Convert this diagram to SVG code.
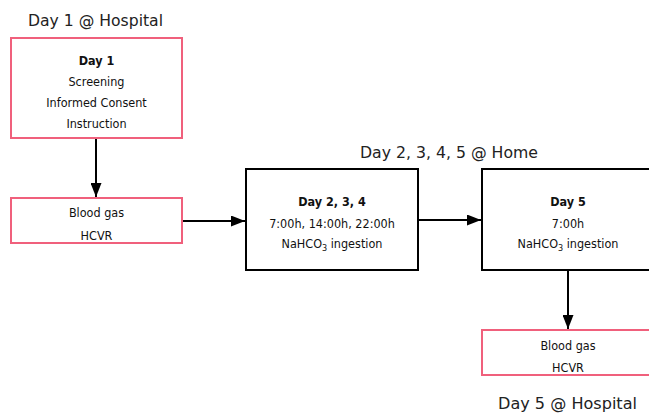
<svg xmlns="http://www.w3.org/2000/svg" width="649" height="413" viewBox="0 0 649 413">
<style>
.title{font-family:"DejaVu Sans","Liberation Sans",sans-serif;font-size:15px;fill:#222;}
.t{font-family:"DejaVu Sans","Liberation Sans",sans-serif;font-stretch:condensed;font-size:12.5px;fill:#111;text-anchor:middle;}
.b{font-weight:bold;}
.pink{fill:#fff;stroke:#f0607c;stroke-width:2;}
.blk{fill:#fff;stroke:#000;stroke-width:2;}
.conn line{stroke:#000;stroke-width:2;}
</style>
<defs>
<marker id="ah" viewBox="0 0 14 11" refX="14" refY="5.5" markerWidth="14" markerHeight="11" markerUnits="userSpaceOnUse" orient="auto">
<path d="M0,0 L14,5.5 L0,11 Z" fill="#000"/>
</marker>
</defs>
<rect width="649" height="413" fill="#fff"/>
<text class="title" x="28" y="26" textLength="135" lengthAdjust="spacingAndGlyphs">Day 1 @ Hospital</text>
<text class="title" x="360" y="158" textLength="178" lengthAdjust="spacingAndGlyphs">Day 2, 3, 4, 5 @ Home</text>
<text class="title" x="498" y="409" textLength="139" lengthAdjust="spacingAndGlyphs">Day 5 @ Hospital</text>
<g class="conn">
<line x1="96" y1="139" x2="96" y2="197" marker-end="url(#ah)"/>
<line x1="183" y1="221" x2="245" y2="221" marker-end="url(#ah)"/>
<line x1="419" y1="220" x2="481" y2="220" marker-end="url(#ah)"/>
<line x1="568" y1="271" x2="568" y2="329" marker-end="url(#ah)"/>
</g>
<g id="day1">
<rect class="pink" x="11" y="38" width="171" height="100"/>
<text class="t b" x="96.5" y="65">Day 1</text>
<text class="t" x="96.5" y="86">Screening</text>
<text class="t" x="96.5" y="107">Informed Consent</text>
<text class="t" x="96.5" y="128">Instruction</text>
</g>
<g id="bloodgas1">
<rect class="pink" x="11" y="198" width="171" height="45"/>
<text class="t" x="96.5" y="217">Blood gas</text>
<text class="t" x="96.5" y="240">HCVR</text>
</g>
<g id="day234">
<rect class="blk" x="246" y="169" width="172" height="101"/>
<text class="t b" x="332" y="206">Day 2, 3, 4</text>
<text class="t" x="332" y="228">7:00h, 14:00h, 22:00h</text>
<text class="t" x="332" y="248">NaHCO<tspan font-size="9" dy="3">3</tspan><tspan dy="-3"> ingestion</tspan></text>
</g>
<g id="day5">
<rect class="blk" x="482" y="169" width="172" height="101"/>
<text class="t b" x="568" y="206">Day 5</text>
<text class="t" x="568" y="228">7:00h</text>
<text class="t" x="568" y="248">NaHCO<tspan font-size="9" dy="3">3</tspan><tspan dy="-3"> ingestion</tspan></text>
</g>
<g id="bloodgas2">
<rect class="pink" x="482" y="330" width="172" height="45"/>
<text class="t" x="568" y="350">Blood gas</text>
<text class="t" x="568" y="372">HCVR</text>
</g>
</svg>
